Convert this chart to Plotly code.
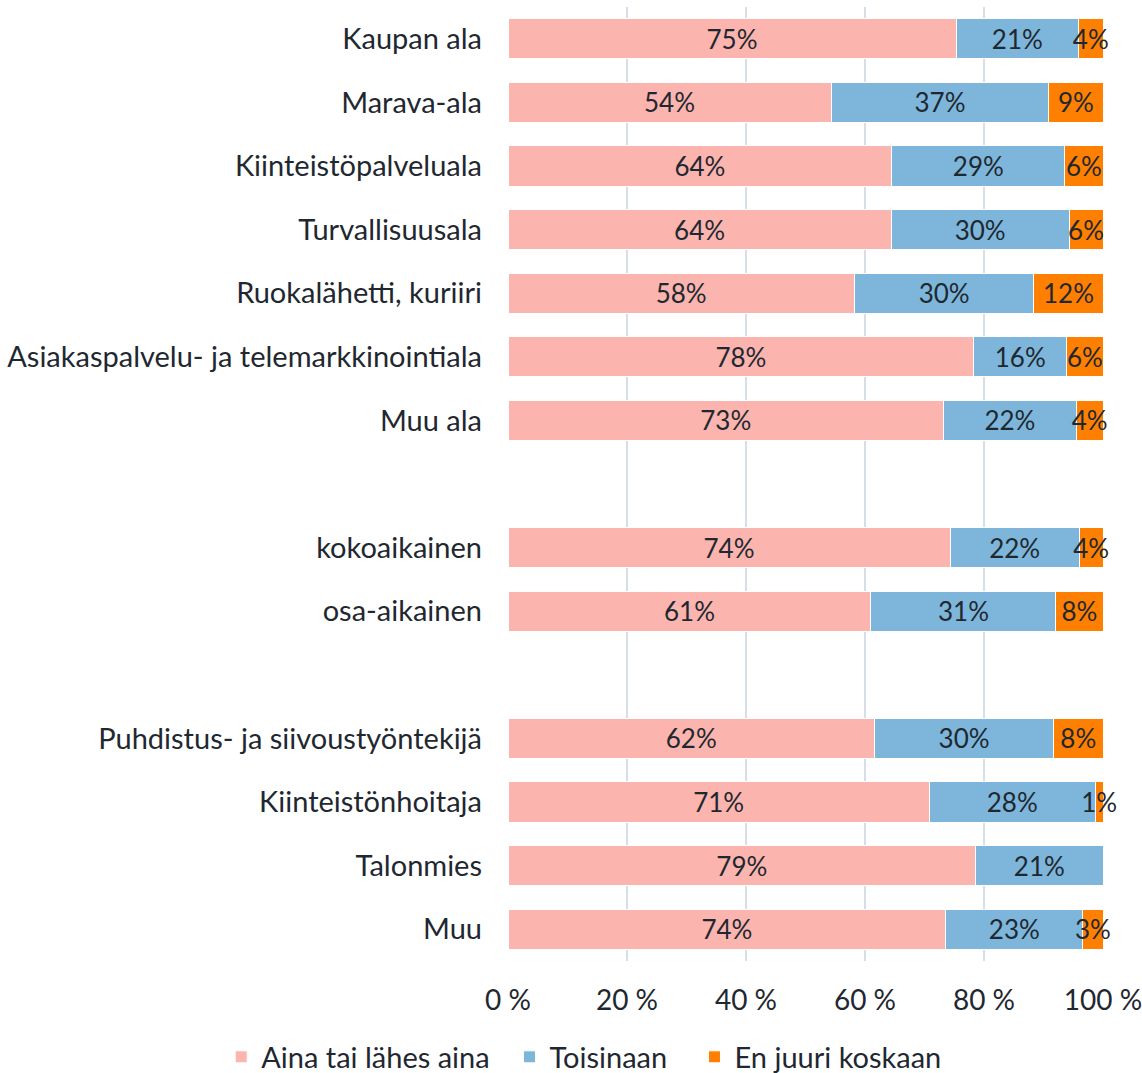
import plotly.graph_objects as go

categories = ["Kaupan ala", "Marava-ala", "Kiinteistöpalveluala", "Turvallisuusala",
              "Ruokalähetti, kuriiri", "Asiakaspalvelu- ja telemarkkinointiala", "Muu ala",
              " ",
              "kokoaikainen", "osa-aikainen",
              "  ",
              "Puhdistus- ja siivoustyöntekijä", "Kiinteistönhoitaja", "Talonmies", "Muu"]

aina = [75.3, 54.3, 64.5, 64.4, 58.2, 78.3, 73.2, None, 74.3, 61.0, None, 61.6, 70.8, 78.6, 73.6]
toisinaan = [20.6, 36.6, 29.1, 29.9, 30.2, 15.6, 22.3, None, 21.7, 31.1, None, 30.1, 27.9, 21.4, 23.0]
en_juuri = [4.1, 9.1, 6.4, 5.7, 11.6, 6.1, 4.5, None, 4.0, 7.9, None, 8.3, 1.3, None, 3.4]

series_names = ["Aina tai lähes aina", "Toisinaan", "En juuri koskaan"]
series_values = [aina, toisinaan, en_juuri]
series_colors = ["#FBB4AE", "#7DB6DA", "#FF7F00"]
legend_pad = ["\u00a0" * 2, "\u00a0" * 3, ""]

tick_vals = [0, 20, 40, 60, 80, 100]
tick_text = ["0 %", "20 %", "40 %", "60 %", "80 %", "100 %"]

FONT = "Lato"
TXT = "#1F2830"

fig = go.Figure()
for name, vals, color, pad in zip(series_names, series_values, series_colors, legend_pad):
    fig.add_trace(go.Bar(
        y=categories, x=vals, name=name + pad, orientation="h",
        marker=dict(color=color, line=dict(color="white", width=1)),
        text=[f"{round(v)}%" if v is not None else "" for v in vals],
        textposition="inside", insidetextanchor="middle", textangle=0,
        textfont=dict(family=FONT, size=26, color=TXT),
        constraintext="none", cliponaxis=False,
        hoverinfo="skip",
    ))

fig.update_layout(
    barmode="stack",
    bargap=0.37,
    width=1142, height=1073,
    margin=dict(l=508, r=39, t=7, b=112, autoexpand=False),
    paper_bgcolor="white", plot_bgcolor="white",
    font=dict(family=FONT, size=28, color=TXT),
    uniformtext=dict(minsize=26, mode="show"),
    showlegend=True,
    legend=dict(orientation="h", x=-0.482, xanchor="left", y=-0.1006, yanchor="middle",
                font=dict(family=FONT, size=29, color=TXT), traceorder="normal",
                itemwidth=30),
    xaxis=dict(range=[0, 100.0001], tickvals=tick_vals, ticktext=tick_text,
               showgrid=True, gridcolor="#D6DFE7", gridwidth=2, zeroline=False,
               showline=False, ticks="", ticklabelstandoff=20, automargin=False,
               ticklabeloverflow="allow",
               tickfont=dict(family=FONT, size=28, color=TXT)),
    yaxis=dict(type="category", categoryorder="array", categoryarray=categories,
               autorange="reversed", showgrid=False, zeroline=False, showline=False,
               ticks="", ticklabelstandoff=25, automargin=False,
               tickfont=dict(family=FONT, size=29, color=TXT)),
)

fig.write_html("out.html", config={"displayModeBar": False},
               post_script="document.body.style.margin='0';document.body.style.overflow='hidden';")
